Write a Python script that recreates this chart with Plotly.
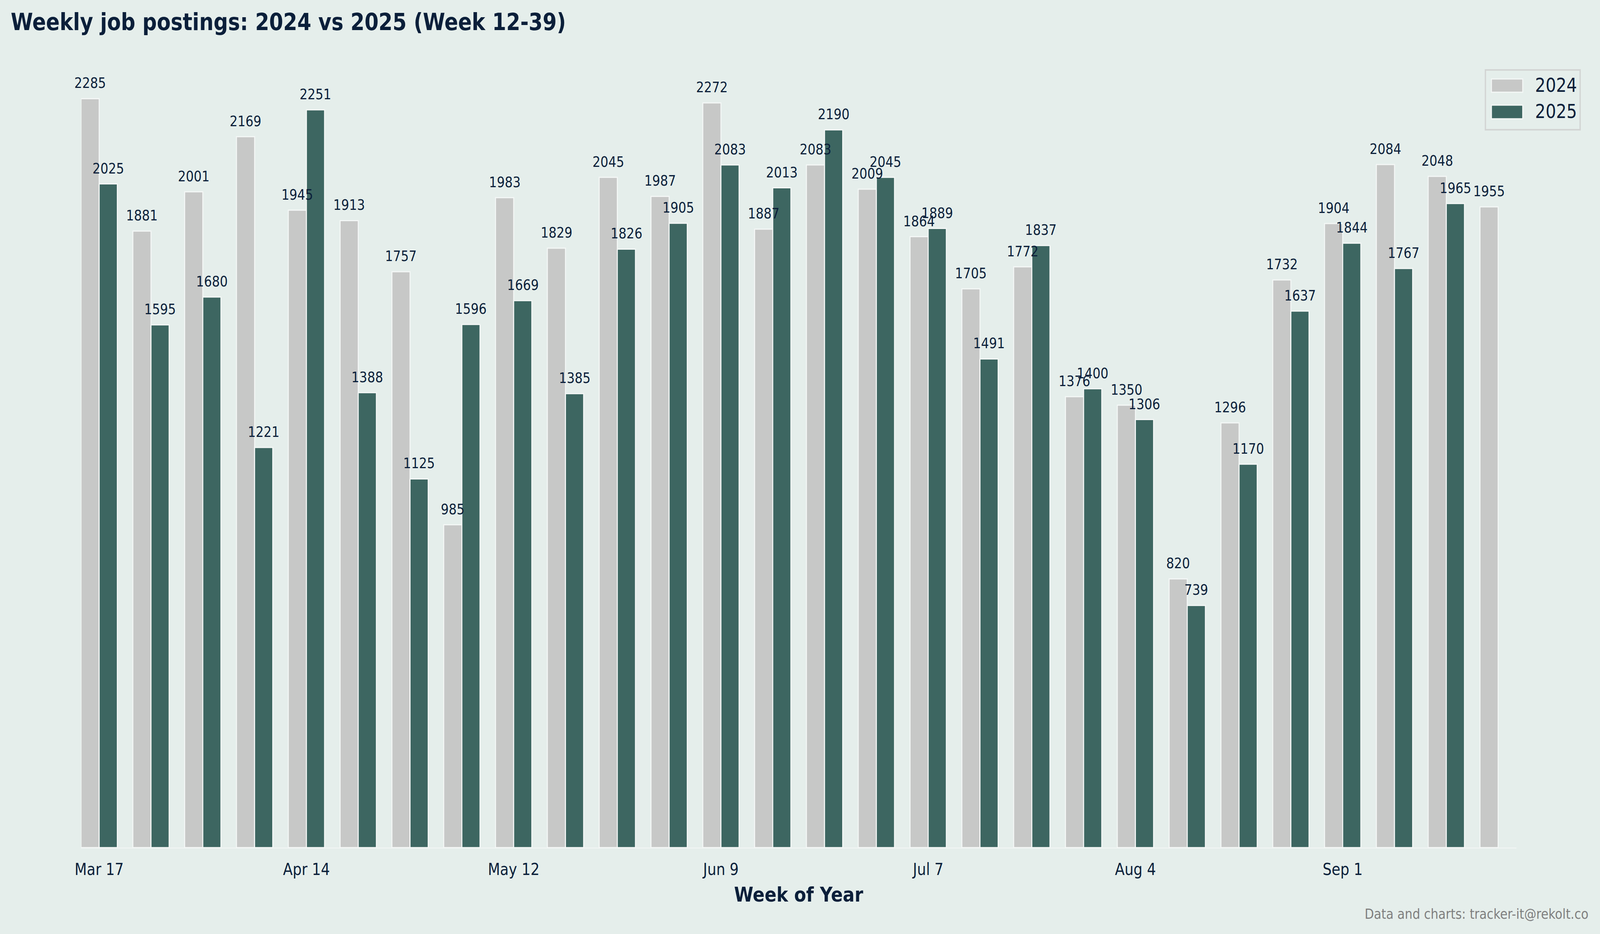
import plotly.graph_objects as go

weeks = list(range(12, 40))
values_2024 = [2285, 1881, 2001, 2169, 1945, 1913, 1757, 985, 1983, 1829, 2045, 1987, 2272, 1887,
               2083, 2009, 1864, 1705, 1772, 1376, 1350, 820, 1296, 1732, 1904, 2084, 2048, 1955]
values_2025 = [2025, 1595, 1680, 1221, 2251, 1388, 1125, 1596, 1669, 1385, 1826, 1905, 2083, 2013,
               2190, 2045, 1889, 1491, 1837, 1400, 1306, 739, 1170, 1637, 1844, 1767, 1965, None]
series_names = ["2024", "2025"]
tick_weeks = [12, 16, 20, 24, 28, 32, 36]
tick_labels = ["Mar 17", "Apr 14", "May 12", "Jun 9", "Jul 7", "Aug 4", "Sep 1"]

BG = "#E5EEEB"
TXT = "#0B1F3A"
COLORS = ["#C7C8C7", "#3D6661"]
EDGE = "#F4F7F6"
FONT = "DejaVu Sans"
W = 0.35
FIG_W, FIG_H = 4758, 2390

fig = go.Figure()
for name, vals, color, off in zip(series_names, (values_2024, values_2025), COLORS, (-W, 0)):
    fig.add_trace(go.Bar(x=weeks, y=vals, name=name, offset=off, width=W,
                         marker=dict(color=color, line=dict(color=EDGE, width=3))))

annotations = []
for vals, shift in ((values_2024, -W / 2), (values_2025, W / 2)):
    for wk, v in zip(weeks, vals):
        if v is None:
            continue
        annotations.append(dict(x=wk + shift, y=v, xref="x", yref="y", text=str(v),
                                showarrow=False, yanchor="bottom", yshift=16,
                                font=dict(family=FONT, size=37, color=TXT)))

annotations.append(dict(text="Data and charts: tracker-it@rekolt.co", xref="paper", yref="paper",
                        x=1.0508, y=-0.084, xanchor="right", yanchor="middle", showarrow=False,
                        font=dict(family=FONT, size=36, color="#7F7F7F")))

# legend (drawn as a framed box with large swatches, like the reference)
shapes = [dict(type="rect", xref="paper", yref="paper", x0=0.9785, x1=1.0445, y0=0.9126, y1=0.9886,
               line=dict(color="#D3D5D4", width=4), fillcolor=BG, layer="above")]
swatch_y = [(0.9603, 0.9771), (0.9265, 0.9439)]
text_y = [0.9692, 0.9359]
for name, color, (y0, y1), ty in zip(series_names, COLORS, swatch_y, text_y):
    shapes.append(dict(type="rect", xref="paper", yref="paper", x0=0.9827, x1=1.0045, y0=y0, y1=y1,
                       line=dict(color=EDGE, width=3), fillcolor=color, layer="above"))
    annotations.append(dict(text=name, xref="paper", yref="paper", x=1.0127, y=ty,
                            xanchor="left", yanchor="middle", showarrow=False,
                            font=dict(family=FONT, size=49, color=TXT)))

fig.update_layout(
    width=FIG_W, height=FIG_H,
    margin=dict(l=241, r=249, t=156, b=221),
    paper_bgcolor=BG, plot_bgcolor=BG,
    font=dict(family=FONT, color=TXT),
    title=dict(text="Weekly job postings: 2024 vs 2025 (Week 12-39)", x=32 / FIG_W,
               xanchor="left", y=1 - 56 / FIG_H, yanchor="middle", xref="container",
               yref="container", font=dict(family=FONT, size=60, color=TXT, weight="bold")),
    barmode="overlay",
    showlegend=False,
    shapes=shapes,
    annotations=annotations,
    xaxis=dict(range=[weeks[0] - W, weeks[-1] + W], tickvals=tick_weeks, ticktext=tick_labels,
               showgrid=False, zeroline=False, showline=True, linecolor=EDGE, linewidth=2,
               ticks="outside", ticklen=18, tickcolor="rgba(0,0,0,0)",
               tickfont=dict(family=FONT, size=42, color=TXT),
               title=dict(text="Week of Year", standoff=22,
                          font=dict(family=FONT, size=52, color=TXT, weight="bold"))),
    yaxis=dict(range=[0, 2400], visible=False, showgrid=False, zeroline=False),
)

# fit the fixed-size figure into the browser viewport if the window is smaller than requested
fit_js = """
document.documentElement.style.overflow = 'hidden';
document.body.style.margin = '0';
document.body.style.overflow = 'hidden';
var gd = document.getElementById('{plot_id}');
var sx = Math.min(1, window.innerWidth / %d);
var sy = Math.min(1, window.innerHeight / %d);
gd.style.transformOrigin = '0 0';
gd.style.transform = 'scale(' + sx + ',' + sy + ')';
""" % (FIG_W, FIG_H)

fig.write_html("out.html", post_script=fit_js, config={"displayModeBar": False})
